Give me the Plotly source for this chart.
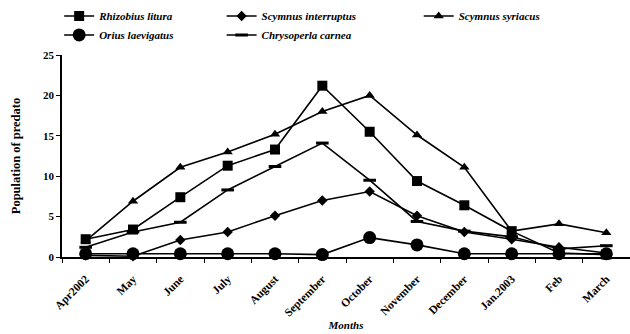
import plotly.graph_objects as go

months = ["Apr2002", "May", "June", "July", "August", "September", "October",
          "November", "December", "Jan.2003", "Feb", "March"]

rhizobius_litura = [2.2, 3.4, 7.4, 11.3, 13.3, 21.2, 15.5, 9.4, 6.4, 3.2, 0.5, 0.3]
scymnus_interruptus = [0.2, 0.1, 2.1, 3.1, 5.1, 7.0, 8.1, 5.1, 3.1, 2.2, 1.2, 0.5]
scymnus_syriacus = [2.0, 6.9, 11.1, 13.0, 15.2, 18.0, 20.0, 15.1, 11.1, 3.2, 4.1, 3.0]
orius_laevigatus = [0.4, 0.4, 0.4, 0.4, 0.4, 0.3, 2.4, 1.5, 0.4, 0.4, 0.4, 0.4]
chrysoperla_carnea = [1.2, 3.1, 4.3, 8.3, 11.2, 14.1, 9.5, 4.4, 3.2, 2.5, 1.0, 1.4]

font_main = "Liberation Serif"

series = [
    ("Rhizobius litura", rhizobius_litura, dict(symbol="square", size=10), "legend"),
    ("Scymnus interruptus", scymnus_interruptus, dict(symbol="diamond", size=8), "legend2"),
    ("Scymnus syriacus", scymnus_syriacus, dict(symbol="triangle-up", size=9), "legend3"),
    ("Orius laevigatus", orius_laevigatus, dict(symbol="circle", size=13), "legend"),
    ("Chrysoperla carnea", chrysoperla_carnea,
     dict(symbol="line-ew-open", size=9, line=dict(width=3, color="black")), "legend2"),
]

fig = go.Figure()
for name, vals, mk, lg in series:
    fig.add_trace(go.Scatter(
        x=months, y=vals, name=name, mode="lines+markers",
        line=dict(color="black", width=1.6),
        marker=dict(color="black", **mk),
        cliponaxis=False, legend=lg,
    ))

legend_style = dict(
    orientation="v", yanchor="top", xanchor="left",
    font=dict(family=font_main, size=11, color="black", style="italic", weight="bold"),
    bgcolor="rgba(0,0,0,0)", tracegroupgap=0, itemwidth=30,
)

fig.update_layout(
    width=630, height=334,
    margin=dict(l=62, r=0, t=55, b=77, autoexpand=False),
    paper_bgcolor="white", plot_bgcolor="white",
    showlegend=True,
    legend=dict(x=-0.005, y=1.265, **legend_style),
    legend2=dict(x=0.281, y=1.265, **legend_style),
    legend3=dict(x=0.628, y=1.265, **legend_style),
    font=dict(family=font_main, color="black"),
)

fig.update_xaxes(
    type="category", range=[-0.5, len(months) - 0.5],
    showline=True, linecolor="black", linewidth=1.5,
    ticks="outside", ticklen=4, tickcolor="black", tickson="boundaries",
    tickangle=-45, showgrid=False, zeroline=False, ticklabelstandoff=9,
    tickfont=dict(family=font_main, size=11.5, color="black", weight="bold"),
    title=dict(text="Months", standoff=2,
               font=dict(family=font_main, size=11, color="black", weight="bold", style="italic")),
)
fig.update_yaxes(
    range=[0, 25], dtick=5, showline=True, linecolor="black", linewidth=1.5,
    ticks="outside", ticklen=4, tickcolor="black", showgrid=False, zeroline=False,
    tickfont=dict(family=font_main, size=11, color="black", weight="bold"),
    title=dict(text="Population of predato", standoff=20,
               font=dict(family=font_main, size=12.5, color="black", weight="bold")),
)

fig.write_html("out.html")
